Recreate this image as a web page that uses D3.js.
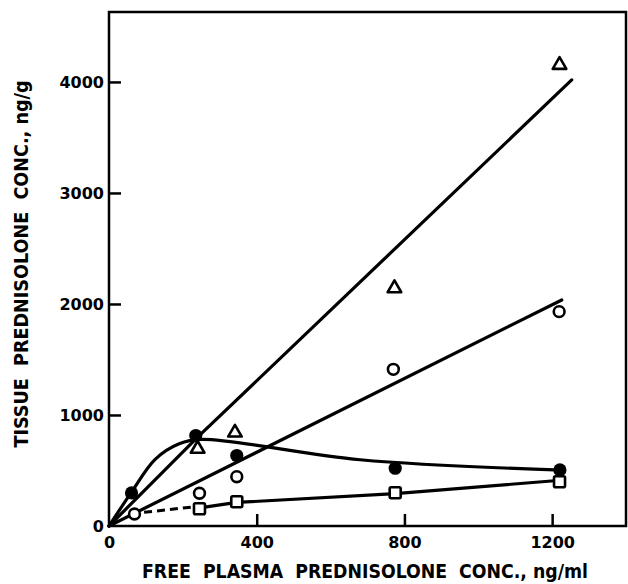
<!DOCTYPE html>
<head>
    <title>Tissue vs free plasma prednisolone</title>
    <script src="https://d3js.org/d3.v7.min.js"></script>
    <style>
        body { margin: 0; background: #fff; }
        svg { display: block; background: #fff; }
        .tick text { font-family: "DejaVu Sans", sans-serif; font-weight: bold; font-size: 16px; }
        .title { font-family: "DejaVu Sans Condensed", "DejaVu Sans", sans-serif; font-weight: bold; font-size: 19px; }
    </style>
</head>

<body>
    <script>

// points  [free plasma ng/ml, tissue ng/g]
const triangles     = [[240, 695], [341, 841], [773, 2141], [1220, 4153]];
const openCircles   = [[69, 108], [245, 295], [346, 444], [770, 1411], [1219, 1931]];
const filledCircles = [[61, 298], [235, 815], [346, 635], [775, 520], [1221, 505]];
const squares       = [[245, 156], [346, 219], [775, 300], [1220, 399]];

// hand drawn fit lines
const triangleFit     = [[0, 0], [240, 800], [1253, 4018]];
const openCircleFit   = [[0, 0], [1226, 2036]];
const filledCircleFit = [[0, 0], [61, 305], [125, 600], [190, 740], [250, 780], [680, 597], [1225, 503]];
const squareFit       = [[250, 165], [346, 212], [775, 292], [1215, 410]];
const squareDashed    = [[95, 123], [228, 172]];

const xTicks = [0, 400, 800, 1200];
const yTicks = [0, 1000, 2000, 3000, 4000];

const w = 628;
const h = 584;

const xScale = d3.scaleLinear().domain([0, 1400]).range([109, 626]);
const yScale = d3.scaleLinear().domain([0, 4630]).range([526, 12]);

const svg = d3.select("body")
        .append("svg")
        .attr("width", w)
        .attr("height", h);

// axes, ticks point inward
const xAxis = d3.axisBottom(xScale).tickValues(xTicks).tickSize(-12).tickPadding(11).tickFormat(d3.format("d"));
const yAxis = d3.axisLeft(yScale).tickValues(yTicks).tickSize(-12).tickPadding(5).tickFormat(d3.format("d"));

svg.append("g")
   .attr("transform", "translate(0," + yScale(0) + ")")
   .call(xAxis)
   .call(g => g.select(".domain").remove());

svg.append("g")
   .attr("transform", "translate(" + xScale(0) + ",0)")
   .call(yAxis)
   .call(g => g.select(".domain").remove());

svg.selectAll(".tick line").attr("stroke", "#000").attr("stroke-width", 2.5);
svg.selectAll(".tick text").attr("fill", "#000");
svg.selectAll(".tick").filter(d => d === 0).select("line").remove();

// frame
svg.append("rect")
   .attr("x", xScale(0))
   .attr("y", yScale(4630))
   .attr("width", xScale(1400) - xScale(0))
   .attr("height", yScale(0) - yScale(4630))
   .attr("fill", "none")
   .attr("stroke", "#000")
   .attr("stroke-width", 2.5);

// fit lines
const line = d3.line().x(d => xScale(d[0])).y(d => yScale(d[1]));
const smooth = d3.line().x(d => xScale(d[0])).y(d => yScale(d[1])).curve(d3.curveCatmullRom.alpha(0.5));

[triangleFit, openCircleFit, squareFit].forEach(fit => {
  svg.append("path")
     .attr("d", line(fit))
     .attr("fill", "none")
     .attr("stroke", "#000")
     .attr("stroke-width", 3.2)
     .attr("stroke-linecap", "round");
});

svg.append("path")
   .attr("d", smooth(filledCircleFit))
   .attr("fill", "none")
   .attr("stroke", "#000")
   .attr("stroke-width", 3.2)
   .attr("stroke-linecap", "round");

svg.append("path")
   .attr("d", line(squareDashed))
   .attr("fill", "none")
   .attr("stroke", "#000")
   .attr("stroke-width", 3)
   .attr("stroke-dasharray", "8,5");

// markers
svg.selectAll(".tri")
   .data(triangles)
   .enter()
   .append("path")
   .attr("class", "tri")
   .attr("d", d3.symbol().type(d3.symbolTriangle).size(80))
   .attr("transform", d => "translate(" + xScale(d[0]) + "," + yScale(d[1]) + ")")
   .attr("fill", "#fff")
   .attr("stroke", "#000")
   .attr("stroke-width", 2.6)
   .attr("stroke-linejoin", "round");

svg.selectAll(".sq")
   .data(squares)
   .enter()
   .append("rect")
   .attr("class", "sq")
   .attr("x", d => xScale(d[0]) - 5.5)
   .attr("y", d => yScale(d[1]) - 5.5)
   .attr("width", 11)
   .attr("height", 11)
   .attr("rx", 1.5)
   .attr("fill", "#fff")
   .attr("stroke", "#000")
   .attr("stroke-width", 2.6);

svg.selectAll(".oc")
   .data(openCircles)
   .enter()
   .append("circle")
   .attr("class", "oc")
   .attr("cx", d => xScale(d[0]))
   .attr("cy", d => yScale(d[1]))
   .attr("r", 5.4)
   .attr("fill", "#fff")
   .attr("stroke", "#000")
   .attr("stroke-width", 2.6);

svg.selectAll(".fc")
   .data(filledCircles)
   .enter()
   .append("circle")
   .attr("class", "fc")
   .attr("cx", d => xScale(d[0]))
   .attr("cy", d => yScale(d[1]))
   .attr("r", 6.6)
   .attr("fill", "#000");

// axis titles
svg.append("text")
   .attr("class", "title")
   .attr("x", 365)
   .attr("y", 578)
   .attr("text-anchor", "middle")
   .attr("textLength", 446)
   .attr("lengthAdjust", "spacingAndGlyphs")
   .text("FREE  PLASMA  PREDNISOLONE  CONC., ng/ml")
   .style("white-space", "pre");

svg.append("text")
   .attr("class", "title")
   .attr("transform", "translate(28,264) rotate(-90)")
   .attr("text-anchor", "middle")
   .attr("textLength", 367)
   .attr("lengthAdjust", "spacingAndGlyphs")
   .text("TISSUE  PREDNISOLONE  CONC., ng/g")
   .style("white-space", "pre");

    </script>
  </body>
